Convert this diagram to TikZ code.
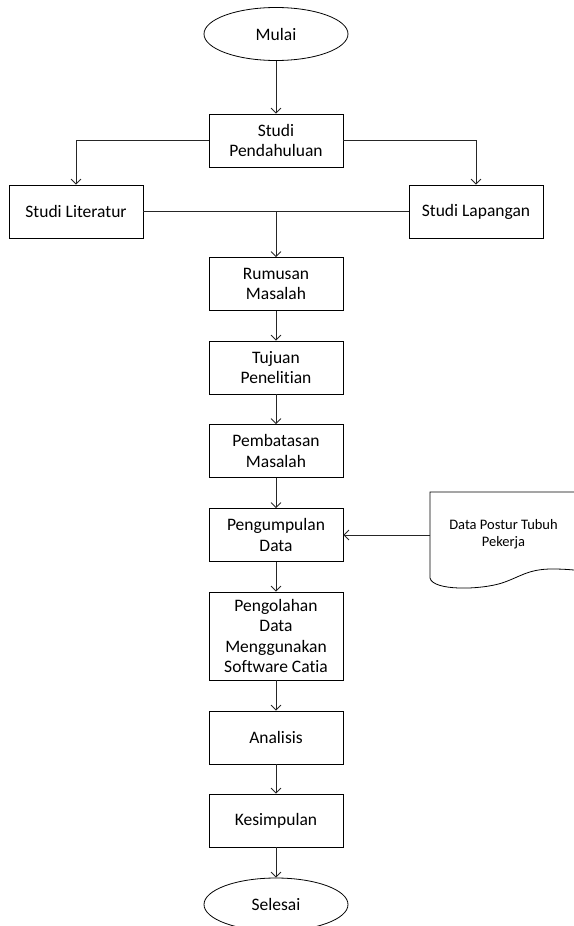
\documentclass[tikz,border=0pt]{standalone}
\usepackage{fontspec}
\setmainfont{Carlito}[Ligatures=NoCommon]
\usetikzlibrary{shapes.geometric,arrows.meta}
\begin{document}
\begin{tikzpicture}[x=1pt,y=-1pt,
  procbox/.style={draw,line width=0.8pt,minimum width=134pt,minimum height=53pt,inner sep=0pt,align=center,font=\fontsize{17.5}{20.5}\selectfont},
  termbox/.style={draw,ellipse,line width=0.8pt,minimum width=144pt,minimum height=53pt,inner sep=0pt,font=\fontsize{17.5}{20.5}\selectfont},
  conn/.style={line width=0.9pt,draw=black!85},
  arr/.style={conn,-{Straight Barb[length=5pt,width=10pt,line width=0.8pt]}}]
\useasboundingbox (0,0) rectangle (573,926);
\node[termbox] (mulai) at (276,34) {Mulai};
\node[procbox] (pend) at (276,140.5) {Studi\\Pendahuluan};
\node[procbox] (lit) at (76,211.5) {Studi Literatur};
\node[procbox] (lap) at (476,211.5) {Studi Lapangan};
\node[procbox] (rum) at (276,284) {Rumusan\\Masalah};
\node[procbox] (tuj) at (276,367.5) {Tujuan\\Penelitian};
\node[procbox] (pem) at (276,451) {Pembatasan\\Masalah};
\node[procbox] (pen) at (276,535) {Pengumpulan\\Data};
\node[procbox,minimum height=88pt] (olah) at (276,636) {Pengolahan\\Data\\Menggunakan\\Software Catia};
\node[procbox] (ana) at (276,737.5) {Analisis};
\node[procbox] (kes) at (276,820.5) {Kesimpulan};
\node[termbox] (sel) at (276,904.5) {Selesai};
% document shape
\draw[line width=0.8pt] (574,492) -- (430,492) -- (430,578)
  .. controls (433,591) and (480,590) .. (502,583)
  .. controls (520,577) and (528,569) .. (552,569)
  .. controls (562,569) and (568,569.5) .. (574,570);
\coordinate (docl) at (430,535);
\node[align=center,font=\fontsize{14.5}{17.5}\selectfont] (doc) at (503.5,534) {Data Postur Tubuh\\Pekerja};
% connectors
\draw[arr] (mulai) -- (pend);
\draw[arr] (pend.west) -| (lit.north);
\draw[arr] (pend.east) -| (lap.north);
\draw[conn] (lit.east) -- (lap.west);
\coordinate (mid) at (276,211.5);
\draw[arr] (mid) -- (rum.north);
\draw[arr] (rum) -- (tuj);
\draw[arr] (tuj) -- (pem);
\draw[arr] (pem) -- (pen);
\draw[arr] (docl) -- (pen.east);
\draw[arr] (pen) -- (olah);
\draw[arr] (olah) -- (ana);
\draw[arr] (ana) -- (kes);
\draw[arr] (kes) -- (sel);
\end{tikzpicture}
\end{document}
